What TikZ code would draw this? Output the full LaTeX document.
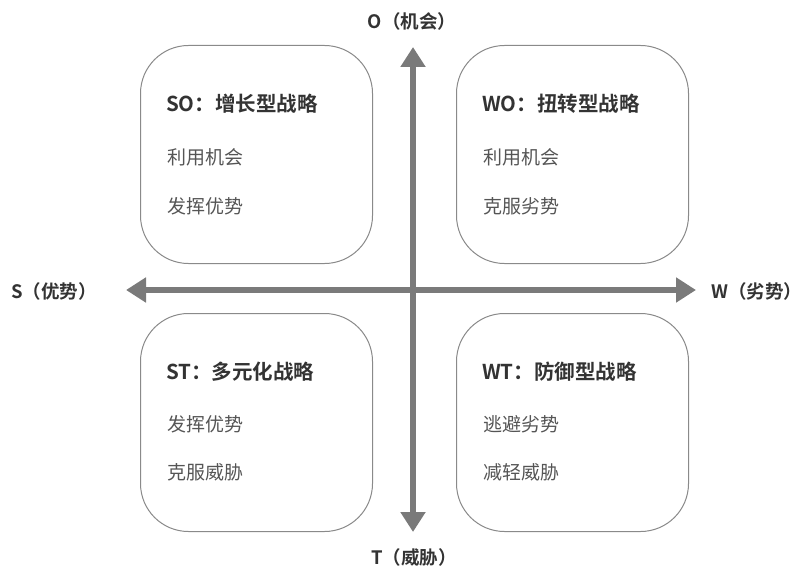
\documentclass[tikz,border=0pt]{standalone}
\usepackage{fontspec}
\setmainfont{Noto Sans CJK SC}
\newfontfamily\cjkb{Noto Sans CJK SC Bold}
\usetikzlibrary{arrows.meta}
\definecolor{boxline}{HTML}{8A8A8A}
\definecolor{axis}{HTML}{7A7A7A}
\definecolor{headtxt}{HTML}{333333}
\definecolor{itemtxt}{HTML}{555555}
\tikzset{
  quad/.style={draw=boxline, line width=1pt, rounded corners=48pt, minimum width=232pt, minimum height=218pt, anchor=north west},
  head/.style={anchor=west, text=headtxt, font=\cjkb\fontsize{20.5}{24}\selectfont, inner sep=0pt},
  item/.style={anchor=west, text=itemtxt, font=\fontsize{19}{22}\selectfont, inner sep=0pt},
  axlabel/.style={text=headtxt, font=\cjkb\fontsize{18.5}{22}\selectfont, inner sep=0pt},
  axisline/.style={draw=axis, line width=6pt, -{Triangle[length=20pt,width=24pt]}}
}
\begin{document}
\begin{tikzpicture}[x=1pt,y=-1pt]
\useasboundingbox (0,0) rectangle (810,572);
% boxes
\node[quad] (so) at (140,45) {};
\node[quad] (wo) at (456,45) {};
\node[quad] (st) at (140,313) {};
\node[quad] (wt) at (456,313) {};
% axes
\coordinate (c) at (413,290);
\coordinate (top) at (413,47);
\coordinate (bot) at (413,532);
\coordinate (lft) at (126,290);
\coordinate (rgt) at (696,290);
\draw[axisline] (c) -- (top);
\draw[axisline] (c) -- (bot);
\draw[axisline] (c) -- (lft);
\draw[axisline] (c) -- (rgt);
% axis labels
\node[axlabel] (lo) at (412,21) {O（机会）};
\node[axlabel] (lt) at (414,557) {T（威胁）};
\node[axlabel, anchor=west] (ls) at (11,291) {S（优势）};
\node[axlabel, anchor=west] (lw) at (711,291) {W（劣势）};
% texts
\node[head] (so1) at (166,104) {SO：增长型战略};
\node[item] (so2) at (167,157) {利用机会};
\node[item] (so3) at (167,206) {发挥优势};
\node[head] (wo1) at (482,104) {WO：扭转型战略};
\node[item] (wo2) at (483,157) {利用机会};
\node[item] (wo3) at (483,206) {克服劣势};
\node[head] (st1) at (166,372) {ST：多元化战略};
\node[item] (st2) at (167,424) {发挥优势};
\node[item] (st3) at (167,472) {克服威胁};
\node[head] (wt1) at (482,372) {WT：防御型战略};
\node[item] (wt2) at (483,424) {逃避劣势};
\node[item] (wt3) at (483,472) {减轻威胁};
\end{tikzpicture}
\end{document}
